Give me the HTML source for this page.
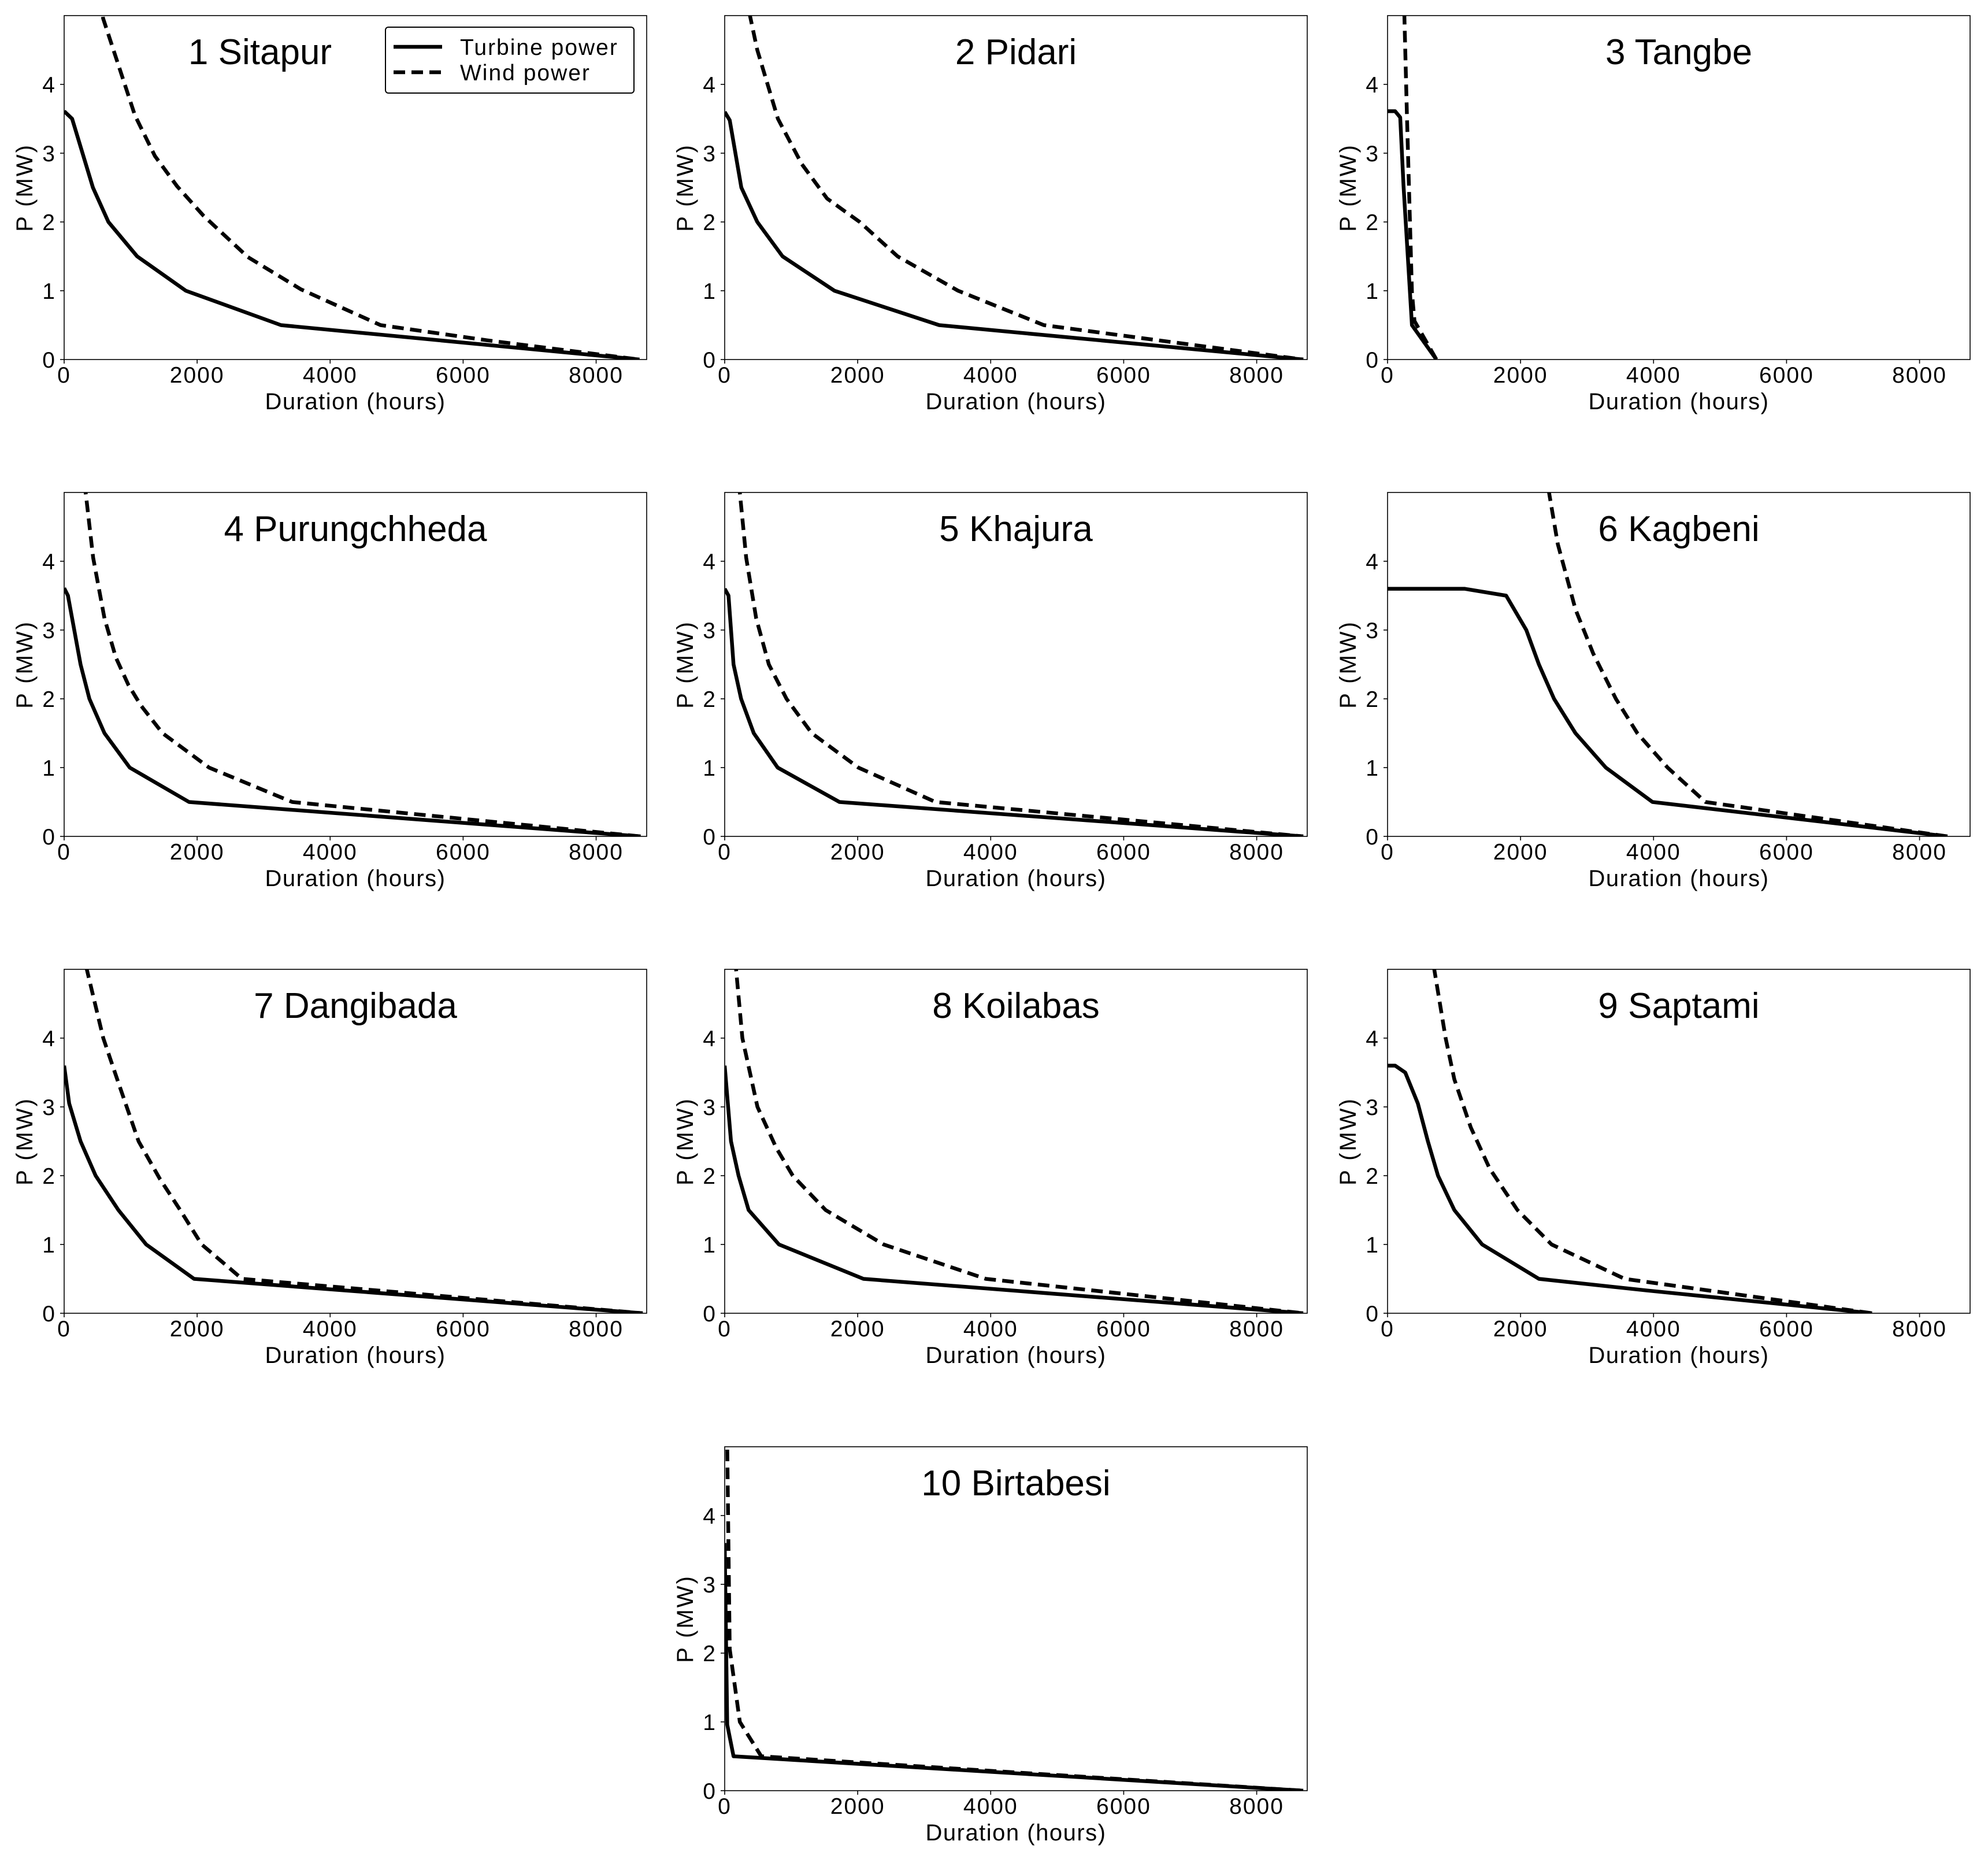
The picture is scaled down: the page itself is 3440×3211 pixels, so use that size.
<!DOCTYPE html>
<html><head><meta charset="utf-8">
<style>
html,body{margin:0;padding:0;background:#fff;}
svg{display:block;}
text{font-family:"Liberation Sans Narrow","Liberation Sans",sans-serif;fill:#000;}
</style></head>
<body>
<svg id="chart" width="3440" height="3211" viewBox="0 0 3440 3211" xmlns="http://www.w3.org/2000/svg"></svg>
<script>
const siteNames = ["1 Sitapur","2 Pidari","3 Tangbe","4 Purungchheda","5 Khajura","6 Kagbeni","7 Dangibada","8 Koilabas","9 Saptami","10 Birtabesi"];
const turbineHours = [
 [0,120,433,666,1098,1830,3261,8652],
 [0,76,250,490,870,1650,3225,8700],
 [0,114,190,240,367,734],
 [0,57,247,380,607,986,1878,8670],
 [0,57,133,247,437,797,1726,8700],
 [0,1157,1783,2087,2276,2504,2826,3282,3984,8420],
 [0,76,247,474,816,1233,1954,8700],
 [0,95,209,360,816,2087,8700],
 [0,114,266,455,607,759,1005,1423,2276,3908,7285],
 [0,38,133,8700]
];
const turbinePower = [
 [3.61,3.5,2.5,2.0,1.5,1.0,0.5,0],
 [3.6,3.48,2.5,2.0,1.5,1.0,0.5,0],
 [3.61,3.61,3.52,2.53,0.5,0],
 [3.61,3.5,2.5,2.0,1.5,1.0,0.5,0],
 [3.6,3.5,2.5,2.0,1.5,1.0,0.5,0],
 [3.6,3.6,3.5,3.0,2.5,2.0,1.5,1.0,0.5,0],
 [3.6,3.05,2.5,2.0,1.5,1.0,0.5,0],
 [3.6,2.5,2.0,1.5,1.0,0.5,0],
 [3.6,3.6,3.5,3.05,2.5,2.0,1.5,1.0,0.5,0.33,0],
 [3.6,0.96,0.5,0]
];
const windHours = [
 [520,586,1065,1364,1697,2096,2762,3561,4759,6356,8652],
 [340,380,490,800,1160,1540,2030,2600,3510,4800,8700],
 [250,253,291,367,405,734],
 [290,323,436,607,778,967,1157,1480,2180,3430,8670],
 [200,228,323,474,664,930,1310,2010,3170,8700],
 [2380,2428,2560,2826,3092,3434,3756,4211,4780,8420],
 [300,341,588,816,1119,1442,1745,2068,2675,8700],
 [150,171,266,493,778,1024,1518,2390,3927,8700],
 [660,702,873,1005,1252,1537,1954,2466,3566,5805,7285],
 [30,38,76,228,550,8700]
];
const windPower = [
 [5.5,4.96,3.55,2.96,2.52,2.09,1.49,1.02,0.5,0.28,0],
 [5.3,5.0,4.5,3.5,2.84,2.34,2.0,1.5,1.0,0.5,0],
 [5.3,5.0,3.56,0.98,0.56,0],
 [5.4,5.0,4.05,3.17,2.6,2.2,1.9,1.5,1.0,0.5,0],
 [5.4,5.0,4.05,3.17,2.5,2.0,1.5,1.0,0.5,0],
 [5.3,5.0,4.25,3.3,2.66,2.0,1.5,1.0,0.5,0],
 [5.3,5.0,4.0,3.35,2.5,1.95,1.5,1.0,0.5,0],
 [5.4,5.0,4.0,3.0,2.4,2.0,1.5,1.0,0.5,0],
 [5.3,5.0,4.0,3.4,2.7,2.1,1.5,1.0,0.5,0.2,0],
 [6.0,5.0,2.06,1.0,0.5,0]
];
const xTicks = [0,2000,4000,6000,8000];
const yTicks = [0,1,2,3,4];
const xMax = 8760, yMax = 5;

const NS = "http://www.w3.org/2000/svg";
const svg = document.getElementById("chart");
const panelLefts = [111,1254,2401];
const panelTops = [27,852,1677,2503];
const PW = 1008, PH = 595;
function mk(tag, attrs, parent){
  const e = document.createElementNS(NS, tag);
  for (const k in attrs) e.setAttribute(k, attrs[k]);
  (parent||svg).appendChild(e);
  return e;
}
const defs = mk("defs", {});

siteNames.forEach((name, i) => {
  let L, T;
  if (i < 9) { L = panelLefts[i % 3]; T = panelTops[Math.floor(i / 3)]; }
  else { L = panelLefts[1]; T = panelTops[3]; }
  const sx = h => L + h / xMax * PW;
  const sy = v => T + PH - v / yMax * PH;
  const g = mk("g", {});
  
  

  const cp = mk("clipPath", {id: "clip" + i}, defs);
  mk("rect", {x: L, y: T, width: PW, height: PH}, cp);

  const frame = mk("rect", {x: L, y: T, width: PW, height: PH, fill: "none", stroke: "#000", "stroke-width": 1.6}, g);
  
  

  xTicks.forEach(t => {
    const x = sx(t);
    mk("line", {x1: x, y1: T + PH, x2: x, y2: T + PH + 7, stroke: "#000", "stroke-width": 1.6}, g);
    const tx = mk("text", {x: x, y: T + PH + 40, "text-anchor": "middle", "font-size": 39, "letter-spacing": 2}, g);
    tx.textContent = t;
    
    
  });
  yTicks.forEach(t => {
    const y = sy(t);
    mk("line", {x1: L - 7, y1: y, x2: L, y2: y, stroke: "#000", "stroke-width": 1.6}, g);
    const ty = mk("text", {x: L - 16, y: y + 14, "text-anchor": "end", "font-size": 39}, g);
    ty.textContent = t;
    
    
  });
  const xl = mk("text", {x: L + PW / 2, y: T + PH + 86, "text-anchor": "middle", "font-size": 40, "letter-spacing": 1.5}, g);
  xl.textContent = "Duration (hours)";
  
  
  const cy = T + PH / 2;
  const yl = mk("text", {x: L - 55, y: cy, "text-anchor": "middle", "font-size": 40, "letter-spacing": 3, transform: "rotate(-90 " + (L - 55) + " " + cy + ")"}, g);
  yl.textContent = "P (MW)";
  
  

  const tcx = i === 0 ? L + 339 : L + PW / 2;
  const title = mk("text", {x: tcx, y: T + 84, "text-anchor": "middle", "font-size": 62}, g);
  title.textContent = name;
  
  

  const wp = windHours[i].map((h, k) => sx(h).toFixed(1) + "," + sy(windPower[i][k]).toFixed(1)).join(" ");
  const wl = mk("polyline", {points: wp, fill: "none", stroke: "#000", "stroke-width": 6.5, "stroke-dasharray": "20 11", "stroke-linejoin": "round", "clip-path": "url(#clip" + i + ")"}, g);
  
  
  const tp = turbineHours[i].map((h, k) => sx(h).toFixed(1) + "," + sy(turbinePower[i][k]).toFixed(1)).join(" ");
  const tl = mk("polyline", {points: tp, fill: "none", stroke: "#000", "stroke-width": 6.5, "stroke-linejoin": "round", "clip-path": "url(#clip" + i + ")"}, g);
  
  

  if (i === 0) {
    const lg = mk("g", {}, g);
    
    
    mk("rect", {x: L + 556, y: T + 20, width: 430, height: 114, rx: 5, fill: "#fff", stroke: "#000", "stroke-width": 2}, lg);
    mk("line", {x1: L + 570, y1: T + 54, x2: L + 654, y2: T + 54, stroke: "#000", "stroke-width": 6.5}, lg);
    mk("line", {x1: L + 570, y1: T + 98, x2: L + 654, y2: T + 98, stroke: "#000", "stroke-width": 6.5, "stroke-dasharray": "20 11"}, lg);
    const l1 = mk("text", {x: L + 685, y: T + 68, "font-size": 39, "letter-spacing": 2}, lg);
    l1.textContent = "Turbine power";
    
    
    const l2 = mk("text", {x: L + 685, y: T + 112, "font-size": 39, "letter-spacing": 2}, lg);
    l2.textContent = "Wind power";
    
    
  }
});
</script>
</body></html>
